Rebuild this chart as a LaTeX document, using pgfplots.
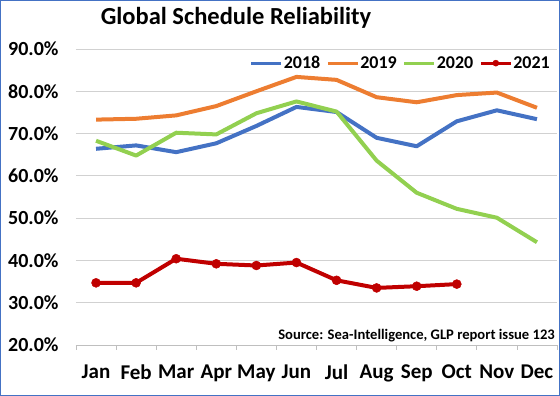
\documentclass[border=0pt]{standalone}
\usepackage{fontspec}
\setmainfont{Carlito}
\usepackage{pgfplots}
\pgfplotsset{compat=1.18}
\definecolor{cA}{HTML}{4472C4}
\definecolor{cB}{HTML}{ED7D31}
\definecolor{cC}{HTML}{92D050}
\definecolor{cD}{HTML}{C00000}
\definecolor{frame}{HTML}{4472C4}
\begin{document}
\begin{tikzpicture}
\useasboundingbox (-76pt,-51pt) rectangle (484pt,345pt);
\begin{axis}[
  at={(0pt,0pt)}, anchor=south west,
  scale only axis, width=481pt, height=296pt,
  xmin=-0.5, xmax=11.5, ymin=20, ymax=90,
  xtick={0,...,11},
  xticklabels={Jan,Feb,Mar,Apr,May,Jun,Jul,Aug,Sep,Oct,Nov,Dec},
  ytick={20,30,...,90},
  yticklabels={20.0\%,30.0\%,40.0\%,50.0\%,60.0\%,70.0\%,80.0\%,90.0\%},
  axis x line*=bottom, axis y line*=left,
  y axis line style={draw=none},
  x axis line style={draw=black!25, line width=0.8pt, -},
  ymajorgrids, grid style={draw=black!18, line width=0.8pt},
  xtick style={draw=none}, ytick style={draw=none},
  extra x ticks={-0.5,0.5,...,11.5}, extra x tick labels={},
  extra x tick style={xtick style={draw=black!25, line width=0.8pt}, major tick length=5pt, tick align=outside},
  tick label style={font=\fontsize{20}{22}\selectfont\bfseries},
  xticklabel style={font=\fontsize{21}{23}\selectfont\bfseries, yshift=-16pt},
  yticklabel style={xshift=-14pt},
  legend columns=4,
  legend style={draw=none, fill=none, at={(axis description cs:1,1)}, anchor=north east,
    xshift=-3pt, yshift=-3pt, font=\fontsize{18}{20}\selectfont\bfseries,
    /tikz/every even column/.append style={column sep=5pt},
    nodes={inner xsep=1pt}},
  legend image code/.code={\draw[mark repeat=2,mark phase=2,#1,line width=3pt,mark size=3pt] plot coordinates {(0pt,0pt) (15pt,0pt) (30pt,0pt)};},
  every axis plot/.append style={line width=4pt, line join=round},
]
\addplot[cA, mark=none] coordinates {(0,66.4) (1,67.2) (2,65.6) (3,67.7) (4,71.8) (5,76.3) (6,75.1) (7,69.0) (8,67.0) (9,72.9) (10,75.5) (11,73.4)};
\addplot[cB, mark=none] coordinates {(0,73.3) (1,73.5) (2,74.3) (3,76.5) (4,80.0) (5,83.4) (6,82.7) (7,78.6) (8,77.4) (9,79.1) (10,79.7) (11,76.1)};
\addplot[cC, mark=none] coordinates {(0,68.3) (1,64.8) (2,70.2) (3,69.8) (4,74.8) (5,77.6) (6,75.2) (7,63.6) (8,56.0) (9,52.2) (10,50.1) (11,44.3)};
\addplot[cD, mark=*, mark size=4.5pt, mark options={solid, line width=0.5pt, fill=cD, draw=cD}] coordinates {(0,34.7) (1,34.7) (2,40.4) (3,39.2) (4,38.8) (5,39.5) (6,35.3) (7,33.5) (8,33.9) (9,34.4)};
\legend{2018,2019,2020,2021}
\end{axis}
\node[font=\fontsize{24.5}{27}\selectfont\bfseries] at (160pt,327pt) {Global Schedule Reliability};
\node[anchor=east, font=\fontsize{14.6}{16}\selectfont\bfseries, inner sep=0pt] at (479pt,9.5pt) {Source: Sea-Intelligence, GLP report issue 123};
\draw[frame, line width=1pt] (-75.5pt,-50.5pt) rectangle (483.5pt,344.5pt);
\end{tikzpicture}
\end{document}
